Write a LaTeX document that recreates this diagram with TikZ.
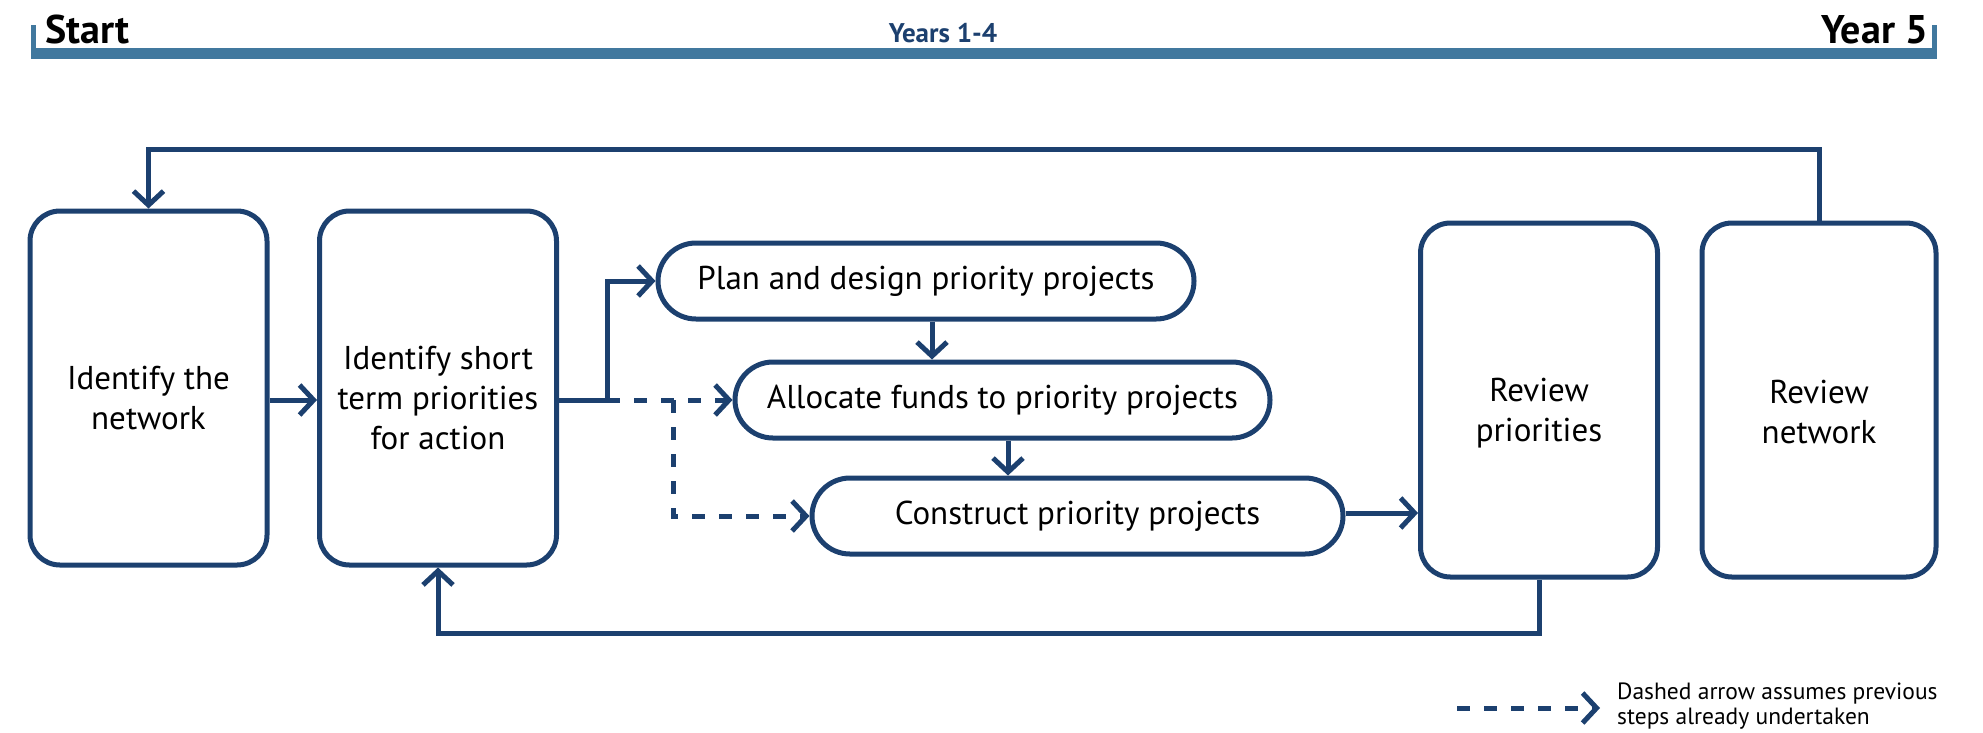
\documentclass[tikz,border=0pt]{standalone}
\usepackage{fontspec}
\setmainfont{PT Sans}
\usetikzlibrary{arrows.meta}
\definecolor{navy}{HTML}{1C406F}
\definecolor{barblue}{HTML}{41789E}
\begin{document}
\begin{tikzpicture}[x=1pt,y=-1pt,
  bigbox/.style={draw=navy, line width=5pt, rounded corners=30pt, minimum width=237pt, minimum height=354pt, inner sep=0pt},
  boxtext/.style={align=center, inner sep=0pt, font=\fontsize{33}{40}\selectfont},
  pill/.style={draw=navy, line width=5pt, rounded corners=38pt, minimum height=76pt, inner sep=0pt, font=\fontsize{33}{40}\selectfont},
  conn/.style={draw=navy, line width=5pt, -{Straight Barb[length=14pt,width=30pt]}},
  dconn/.style={conn, dash pattern=on 13pt off 14pt},
  bartext/.style={font=\fontsize{40}{44}\selectfont\bfseries, inner sep=0pt}
]
\useasboundingbox (0,0) rectangle (1983,732);
% timeline bar
\fill[barblue] (31,48) rectangle (1937,59);
\fill[barblue] (31,25) rectangle (36,59);
\fill[barblue] (1932,25) rectangle (1937,59);
\node[bartext, anchor=base west] (start) at (45,43) {Start};
\node[bartext, anchor=base east] (year5) at (1928,43) {Year 5};
\node[font=\fontsize{27}{30}\selectfont\bfseries, text=navy, anchor=base, inner sep=0pt] (years) at (943,42) {Years 1-4};
% boxes
\node[bigbox] (b1) at (148.5,388) {};
\node[boxtext] (b1t) at ([yshift=-10pt]b1.center) {Identify the\\network};
\node[bigbox] (b2) at (438,388) {};
\node[boxtext] (b2t) at ([yshift=-10pt]b2.center) {Identify short\\term priorities\\for action};
\node[pill, minimum width=536pt] (plan) at (926,281) {Plan and design priority projects};
\node[pill, minimum width=535pt] (alloc) at (1002.5,400) {Allocate funds to priority projects};
\node[pill, minimum width=531pt] (cons) at (1077.5,516) {Construct priority projects};
\node[bigbox] (rp) at (1539,400) {};
\node[boxtext] (rpt) at ([yshift=-13pt]rp.center) {Review\\priorities};
\node[bigbox, minimum width=234pt] (rn) at (1819,400) {};
\node[boxtext] (rnt) at ([yshift=-12pt]rn.center) {Review\\network};
% helper coordinates
\coordinate (s1) at (607,400);
\coordinate (s2) at (673,400);
\coordinate (a1) at (932,0);
\coordinate (a2) at (1008,0);
\coordinate (bot) at (0,633);
\coordinate (top) at (0,149);
\coordinate (cr) at (0,513);
% connectors
\draw[conn] (b1.east |- alloc) -- (b2.west |- alloc);
\draw[conn] (b2.east |- alloc) -- (s1) |- (plan.west);
\draw[dconn] (s1) -- (alloc.west);
\draw[dconn] (s2) |- (cons.west);
\draw[conn] (plan.south -| a1) -- (alloc.north -| a1);
\draw[conn] (alloc.south -| a2) -- (cons.north -| a2);
\draw[conn] (cons.east |- cr) -- (rp.west |- cr);
\draw[conn] (rp.south) -- (rp.south |- bot) -| (b2.south);
\draw[conn] (rn.north) -- (rn.north |- top) -| (b1.north);
% legend
\coordinate (l1) at (1457,708);
\coordinate (l2) at (1600,708);
\draw[conn, dash pattern=on 13pt off 14pt] (l1) -- (l2);
\node[anchor=west, align=left, inner sep=0pt, font=\fontsize{23.5}{25}\selectfont] (legend) at (1617,706) {Dashed arrow assumes previous\\steps already undertaken};
\end{tikzpicture}
\end{document}
